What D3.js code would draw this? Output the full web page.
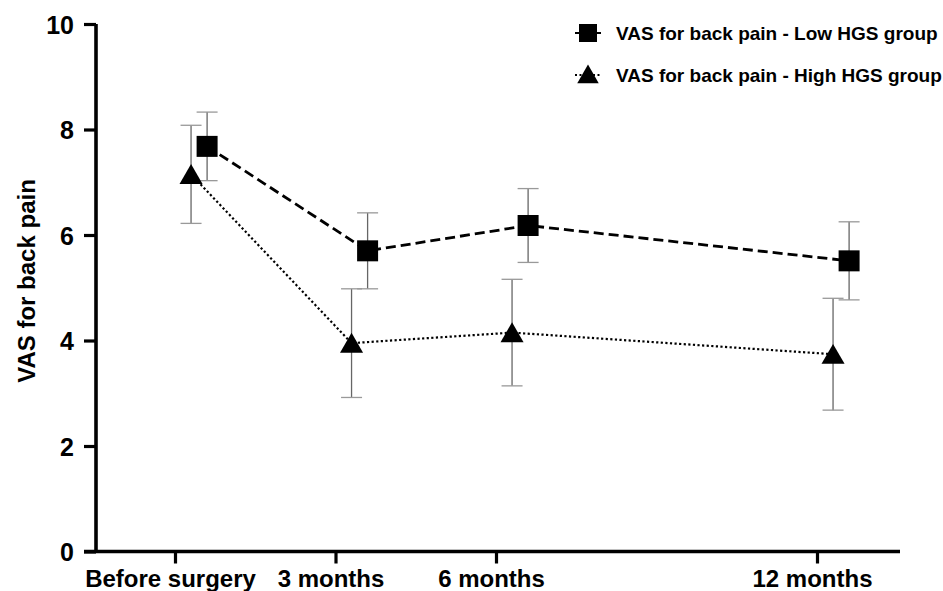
<!DOCTYPE html>
<html>
<head>
<meta charset="utf-8">
<script src="https://cdn.jsdelivr.net/npm/d3@7"></script>
<style>
  body { margin: 0; background: #fff; }
  text { font-family: "Liberation Sans", Arial, sans-serif; font-weight: bold; fill: #000; }
</style>
</head>
<body>
<svg id="chart"></svg>
<script>
const svgWidth = 943;
const svgHeight = 591;

// time points (months after surgery) and their labels
const months = [0, 3, 6, 12];
const monthLabels = ["Before surgery", "3 months", "6 months", "12 months"];
const yTicks = [0, 2, 4, 6, 8, 10];

// Low HGS group (squares)
const lowMean = [7.68, 5.70, 6.18, 5.51];
const lowErr = [0.65, 0.72, 0.70, 0.74];

// High HGS group (triangles)
const highMean = [7.15, 3.95, 4.15, 3.74];
const highErr = [0.93, 1.03, 1.01, 1.06];

const seriesNames = ["VAS for back pain - Low HGS group", "VAS for back pain - High HGS group"];

const svg = d3.select("#chart")
    .attr("width", svgWidth)
    .attr("height", svgHeight);

const x = d3.scaleLinear().domain([0, 12]).range([175, 817]);
const y = d3.scaleLinear().domain([0, 10]).range([551.5, 24]);

const series = [
  { name: seriesNames[0], mean: lowMean, err: lowErr, shift: 0.6, symbol: d3.symbolSquare, size: 441, dash: "10,5", width: 2.8 },
  { name: seriesNames[1], mean: highMean, err: highErr, shift: 0.3, symbol: d3.symbolTriangle, size: 230, dash: "2.2,2.4", width: 2.2 }
];

// axes
const yAxis = d3.axisLeft(y).tickValues(yTicks).tickSize(12).tickPadding(10);
const gy = svg.append("g").attr("transform", "translate(96,0)").call(yAxis);
gy.select(".domain").attr("stroke-width", 3.6).attr("d", "M0,24V553");
gy.selectAll(".tick line").attr("stroke-width", 3.2);
gy.selectAll(".tick text").style("font-size", "25px").attr("dy", "0.36em");

const xAxis = d3.axisBottom(x).tickValues(months).tickFormat((d, i) => monthLabels[i]).tickSize(12).tickPadding(4);
const gx = svg.append("g").attr("transform", "translate(0,551.5)").call(xAxis);
gx.select(".domain").attr("stroke-width", 3.6).attr("d", "M84,0H900");
gx.selectAll(".tick line").attr("stroke-width", 3.2);
gx.selectAll(".tick text").style("font-size", "24px").attr("dx", "-5").attr("dy", "0.8em");

// y axis title
svg.append("text")
    .attr("transform", "translate(35,281) rotate(-90)")
    .attr("text-anchor", "middle")
    .style("font-size", "24px")
    .text("VAS for back pain");

series.forEach(s => {
  const pts = months.map((m, i) => ({ x: x(m + s.shift), m: s.mean[i], e: s.err[i] }));

  svg.append("path")
      .datum(pts)
      .attr("fill", "none")
      .attr("stroke", "#000")
      .attr("stroke-width", s.width)
      .attr("stroke-dasharray", s.dash)
      .attr("d", d3.line().x(d => d.x).y(d => y(d.m)));

  const eb = svg.append("g").attr("stroke", "#666").attr("stroke-width", 1.3);
  pts.forEach(d => {
    eb.append("line").attr("x1", d.x).attr("x2", d.x).attr("y1", y(d.m + d.e)).attr("y2", y(d.m - d.e));
    eb.append("line").attr("x1", d.x - 10.5).attr("x2", d.x + 10.5).attr("y1", y(d.m + d.e)).attr("y2", y(d.m + d.e)).attr("stroke", "#999");
    eb.append("line").attr("x1", d.x - 10.5).attr("x2", d.x + 10.5).attr("y1", y(d.m - d.e)).attr("y2", y(d.m - d.e)).attr("stroke", "#999");
  });

  svg.append("g").selectAll("path")
      .data(pts)
      .join("path")
      .attr("transform", d => `translate(${d.x},${y(d.m) + (s.symbol === d3.symbolTriangle ? 3 : 0)})`)
      .attr("d", d3.symbol(s.symbol, s.size))
      .attr("fill", "#000");
});

// legend
const legend = svg.append("g");
series.forEach((s, i) => {
  const ly = 33 + i * 42;
  legend.append("line")
      .attr("x1", 575).attr("x2", 601).attr("y1", ly).attr("y2", ly)
      .attr("stroke", "#000").attr("stroke-width", 2)
      .attr("stroke-dasharray", i === 0 ? null : "2,2.5");
  legend.append("path")
      .attr("transform", `translate(588,${ly + (i === 1 ? 2 : 0)})`)
      .attr("d", d3.symbol(s.symbol, i === 0 ? 324 : 200))
      .attr("fill", "#000");
  legend.append("text")
      .attr("x", 616).attr("y", ly)
      .attr("dy", "0.36em")
      .style("font-size", "19px")
      .text(s.name);
});
</script>
</body>
</html>
